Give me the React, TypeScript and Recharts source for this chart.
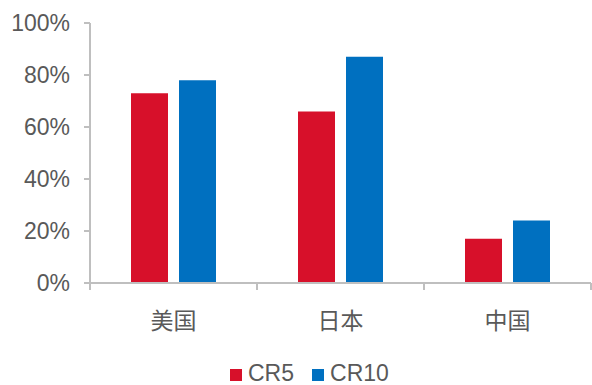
import React from 'react';
import { BarChart, Bar, XAxis, YAxis, Legend } from 'recharts';

const categories = ['美国', '日本', '中国'];
const cr5 = [73, 66, 17];
const cr10 = [78, 87, 24];
const yTicks = [0, 20, 40, 60, 80, 100];

const RED = '#D7102A';
const BLUE = '#0070C0';
const AXIS = '#BFBFBF';
const TEXT = '#595959';
const FONT = '"Liberation Sans", Arial, "Noto Sans CJK SC", sans-serif';
const LABEL_GAP = 30;

const data = categories.map((name, i) => ({ name, CR5: cr5[i], CR10: cr10[i] }));

// category label plus the separator ticks between categories (Excel style)
const CategoryTick = (props: any) => {
  const { x, y, payload, index, visibleTicksCount } = props;
  const half = payload?.offset || 83.5;
  const axisY = y - LABEL_GAP;
  const last = index === (visibleTicksCount ?? categories.length) - 1;
  return (
    <g>
      <line x1={x - half} x2={x - half} y1={axisY} y2={axisY + 7} stroke={AXIS} strokeWidth={2} />
      {last && <line x1={x + half} x2={x + half} y1={axisY} y2={axisY + 7} stroke={AXIS} strokeWidth={2} />}
      <text x={x} y={y} dy="0.71em" textAnchor="middle" fill={TEXT} fontSize={23} fontFamily={FONT}>
        {payload.value}
      </text>
    </g>
  );
};

const renderLegend = () => (
  <div style={{ display: 'flex', alignItems: 'center', paddingLeft: 230, fontFamily: FONT, fontSize: 23, color: TEXT, lineHeight: '24px' }}>
    {[
      { label: 'CR5', color: RED },
      { label: 'CR10', color: BLUE },
    ].map((item, i) => (
      <div key={item.label} style={{ display: 'flex', alignItems: 'center', marginLeft: i === 0 ? 0 : 18 }}>
        <span style={{ width: 12, height: 12, background: item.color, display: 'inline-block', marginRight: 6, marginTop: 3 }} />
        <span>{item.label}</span>
      </div>
    ))}
  </div>
);

export default function App() {
  return (
    <div style={{ position: 'absolute', left: 0, top: 0, width: 592, height: 385, background: '#fff', overflow: 'hidden' }}>
      <BarChart
        width={592}
        height={385}
        data={data}
        margin={{ top: 23, right: 1, left: 0, bottom: 0 }}
        barGap={11}
      >
        <XAxis
          dataKey="name"
          axisLine={{ stroke: AXIS, strokeWidth: 2 }}
          tickLine={false}
          tickSize={0}
          tickMargin={LABEL_GAP}
          height={78}
          interval={0}
          tick={<CategoryTick />}
        />
        <YAxis
          domain={[0, 100]}
          ticks={yTicks}
          tickFormatter={(v: number) => `${v}%`}
          width={90}
          axisLine={{ stroke: AXIS, strokeWidth: 2 }}
          tickLine={{ stroke: AXIS, strokeWidth: 2 }}
          tickSize={6}
          tickMargin={14}
          tick={{ fill: TEXT, fontSize: 23, fontFamily: FONT }}
        />
        <Legend verticalAlign="bottom" height={24} content={renderLegend} wrapperStyle={{ left: 0, width: 592, bottom: 0 }} />
        <Bar dataKey="CR5" fill={RED} barSize={37} isAnimationActive={false} />
        <Bar dataKey="CR10" fill={BLUE} barSize={37} isAnimationActive={false} />
      </BarChart>
    </div>
  );
}
